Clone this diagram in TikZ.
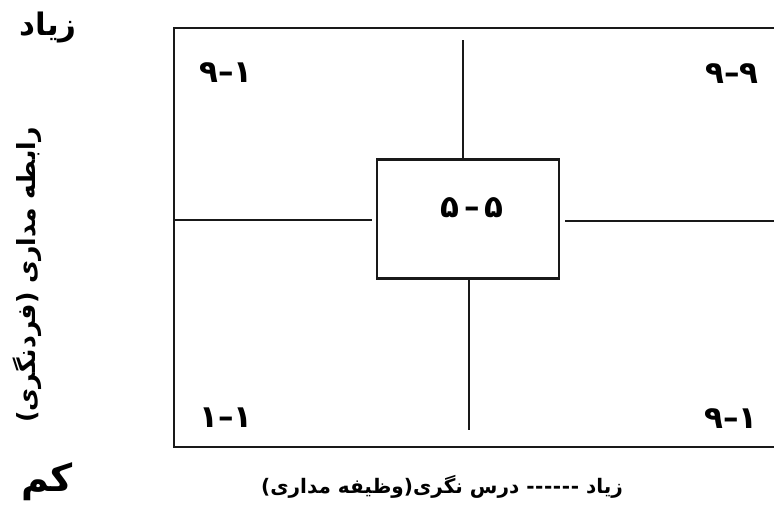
\documentclass[tikz,border=0pt]{standalone}
\usepackage{fontspec}
\usepackage{tikz}
\newfontfamily\arabicfont[Script=Arabic]{DejaVu Sans}
\TeXXeTstate=1
\newcommand{\dashRun}{-\kern0.6pt-\kern0.6pt-\kern0.6pt-\kern0.6pt-\kern0.6pt-}

\begin{document}
\begin{tikzpicture}[x=1pt,y=-1pt]
% Define styles
\tikzstyle{frameLine}=[line width=2.6pt, draw=black!90]
\tikzstyle{gridLine}=[line width=2.6pt, draw=black!90]
\tikzstyle{midBox}=[rectangle, minimum width=182pt, minimum height=119pt, inner sep=0pt, draw=black!90, line width=2.6pt]
\tikzstyle{cellLabel}=[inner sep=0pt, font=\arabicfont\bfseries\fontsize{31}{34}\selectfont]
\tikzstyle{axisLabel}=[inner sep=0pt, font=\arabicfont\bfseries\fontsize{20}{24}\selectfont]

\useasboundingbox (0,0) rectangle (774,515);

% Draw main frame (its right side runs off the page)
\draw[frameLine] (774,28) -- (174,28) -- (174,447) -- (774,447);

% Draw centre box
\node[midBox] (box55) at (468,219) {};
\node[cellLabel] (mid) at (472,208) {۵\,–\,۵};

% Corner labels
\node[cellLabel] (topLeft) at (226,73) {۱–۹};
\node[cellLabel] (topRight) at (732,74) {۹–۹};
\node[cellLabel] (botLeft) at (226,418) {۱–۱};
\node[cellLabel] (botRight) at (731,419) {۱–۹};

% Ends of the cross lines
\coordinate (topEnd) at (463,40);
\coordinate (botEnd) at (469,430);
\coordinate (leftEnd) at (174,220);
\coordinate (rightEnd) at (774,221);

% Cross lines
\draw[gridLine] (topEnd) -- (box55.north -| topEnd);
\draw[gridLine] (box55.south -| botEnd) -- (botEnd);
\draw[gridLine, shorten >=4pt] (leftEnd) -- (box55.west |- leftEnd);
\draw[gridLine, shorten <=5pt] (box55.east |- rightEnd) -- (rightEnd);

% Axis texts
\node[axisLabel, font=\arabicfont\bfseries\fontsize{31}{34}\selectfont] (high) at (48,28) {\beginR زیاد\endR};
\node[axisLabel, font=\arabicfont\bfseries\fontsize{38}{42}\selectfont] (low) at (47,482) {\beginR کم\endR};
\node[axisLabel, font=\arabicfont\bfseries\fontsize{25}{29}\selectfont, rotate=90] (yAxis) at (27,275) {\beginR رابطه مداری (فردنگری)\endR};
\node[axisLabel] (xAxis) at (442,487) {\beginR زیاد \dashRun{} درس نگری(وظیفه مداری)\endR};
\end{tikzpicture}
\end{document}
